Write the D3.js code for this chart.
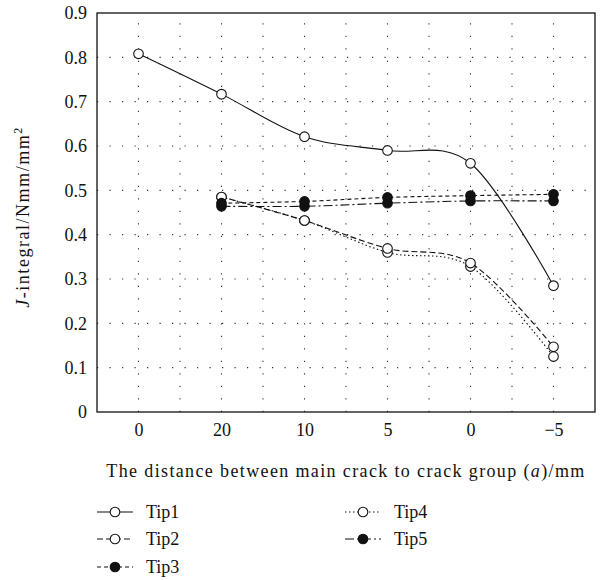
<!DOCTYPE html>
<html>
<head>
<meta charset="utf-8">
<script src="https://cdn.jsdelivr.net/npm/d3@7"></script>
</head>
<body style="margin:0;background:#fff">
<svg id="chart" width="602" height="580"></svg>
<script>
// Distance categories along the x axis (mm)
const categories = ["0", "20", "10", "5", "0", "\u22125"];
const yTicks = [0, 0.1, 0.2, 0.3, 0.4, 0.5, 0.6, 0.7, 0.8, 0.9];

// J-integral values (N·mm/mm²) per crack tip
const tip1 = [0.808, 0.717, 0.621, 0.590, 0.561, 0.285];
const tip2 = [null, 0.485, 0.432, 0.369, 0.336, 0.147];
const tip3 = [null, 0.471, 0.475, 0.484, 0.488, 0.491];
const tip4 = [null, 0.485, 0.432, 0.360, 0.328, 0.125];
const tip5 = [null, 0.464, 0.464, 0.471, 0.476, 0.476];

const seriesNames = ["Tip1", "Tip2", "Tip3", "Tip4", "Tip5"];
const seriesValues = [tip1, tip2, tip3, tip4, tip5];
const seriesDash = ["none", "6,3", "4,3", "1.5,2.5", "9,3,2,3"];
const seriesFilled = [false, false, true, false, true];

const INK = "#111";

const svg = d3.select("#chart");
const m = { left: 97, right: 595, top: 13, bottom: 412 };

const x = d3.scalePoint()
  .domain(d3.range(categories.length))
  .range([m.left, m.right])
  .padding(0.5);
const y = d3.scaleLinear().domain([0, 0.9]).range([m.bottom, m.top]);
const step = x.step();

// Serif label helper
function serif(sel, size) {
  return sel.style("font-family", '"Liberation Serif"').attr("font-size", size).attr("fill", INK);
}

// Stretch a text element's letter spacing so it spans a given width
function fitWidth(sel, width) {
  const node = sel.node();
  const natural = node.getComputedTextLength();
  const n = node.textContent.length;
  if (n > 1) sel.style("letter-spacing", ((width - natural) / (n - 1)) + "px");
}

// Dotted grid: vertical lines at categories and half-steps, horizontal at each tick
const grid = svg.append("g")
  .attr("stroke", "#333")
  .attr("stroke-width", 1.1)
  .attr("stroke-dasharray", "1.2,11.3");
const vx = [];
d3.range(categories.length).forEach(i => {
  vx.push(x(i) - step / 2);
  vx.push(x(i));
});
vx.push(x(categories.length - 1) + step / 2);
grid.selectAll("line.v")
  .data(vx.filter(v => v > m.left + 1 && v < m.right - 1))
  .join("line")
  .attr("x1", d => d).attr("x2", d => d)
  .attr("y1", m.bottom).attr("y2", m.top);
grid.selectAll("line.h")
  .data(yTicks.filter(t => t > 0 && t < 0.9))
  .join("line")
  .attr("y1", d => y(d)).attr("y2", d => y(d))
  .attr("x1", m.left).attr("x2", m.right);

// Axes
const yAxis = d3.axisLeft(y).tickValues(yTicks).tickSize(0).tickPadding(10)
  .tickFormat(d => d === 0 ? "0" : d3.format(".1f")(d));
const gy = svg.append("g").attr("transform", `translate(${m.left},0)`).call(yAxis);
gy.attr("font-family", "Liberation Serif").attr("font-size", 18);
gy.select(".domain").remove();
serif(gy.selectAll("text"), 18);

const xAxis = d3.axisBottom(x).tickSize(0).tickPadding(11)
  .tickFormat(i => categories[i]);
const gx = svg.append("g").attr("transform", `translate(0,${m.bottom})`).call(xAxis);
gx.attr("font-family", "Liberation Serif").attr("font-size", 18);
gx.select(".domain").remove();
serif(gx.selectAll("text"), 18);

// Frame
svg.append("rect")
  .attr("x", m.left).attr("y", m.top)
  .attr("width", m.right - m.left).attr("height", m.bottom - m.top)
  .attr("fill", "none").attr("stroke", "#111").attr("stroke-width", 1.3);

// Series lines (smoothed) and markers
const line = d3.line()
  .defined(d => d[1] != null)
  .x(d => x(d[0])).y(d => y(d[1]))
  .curve(d3.curveCardinal.tension(0));

const drawOrder = [3, 1, 4, 2, 0];
drawOrder.forEach(s => {
  const pts = seriesValues[s].map((v, i) => [i, v]).filter(d => d[1] != null);
  svg.append("path")
    .datum(pts)
    .attr("d", line)
    .attr("fill", "none")
    .attr("stroke", "#111")
    .attr("stroke-width", 1.1)
    .attr("stroke-dasharray", seriesDash[s]);
});
drawOrder.forEach(s => {
  const pts = seriesValues[s].map((v, i) => [i, v]).filter(d => d[1] != null);
  svg.append("g").selectAll("circle")
    .data(pts)
    .join("circle")
    .attr("cx", d => x(d[0])).attr("cy", d => y(d[1]))
    .attr("r", 4.8)
    .attr("fill", seriesFilled[s] ? "#111" : "#fff")
    .attr("stroke", "#111")
    .attr("stroke-width", 1.1);
});

// Axis titles
const xTitle = serif(svg.append("text"), 18)
  .attr("x", 346).attr("y", 477)
  .attr("text-anchor", "middle")
  .call(t => {
    t.append("tspan").text("The distance between main crack to crack group (");
    t.append("tspan").style("font-style", "italic").text("a");
    t.append("tspan").text(")/mm");
  });
fitWidth(xTitle, 478);

const yTitle = serif(svg.append("text"), 18)
  .attr("transform", "translate(29,217) rotate(-90)")
  .attr("text-anchor", "middle")
  .call(t => {
    t.append("tspan").style("font-style", "italic").text("J");
    t.append("tspan").text("-integral/Nmm/mm");
    t.append("tspan").attr("font-size", 12).attr("dy", -7).text("2");
  });
fitWidth(yTitle, 180);

// Legend: two columns
const legendPos = [
  { x: 97, y: 512 }, { x: 97, y: 539 }, { x: 97, y: 567 },
  { x: 345, y: 512 }, { x: 345, y: 539 }
];
const legend = svg.append("g");
seriesNames.forEach((name, s) => {
  const p = legendPos[s];
  const g = legend.append("g").attr("transform", `translate(${p.x},${p.y})`);
  g.append("line")
    .attr("x1", 0).attr("x2", 36).attr("y1", 0).attr("y2", 0)
    .attr("stroke", "#111").attr("stroke-width", 1.1)
    .attr("stroke-dasharray", seriesDash[s]);
  g.append("circle")
    .attr("cx", 18).attr("cy", 0).attr("r", 4.8)
    .attr("fill", seriesFilled[s] ? "#111" : "#fff")
    .attr("stroke", "#111").attr("stroke-width", 1.1);
  serif(g.append("text"), 18)
    .attr("x", 49).attr("y", 6)
    .text(name);
});
</script>
</body>
</html>
